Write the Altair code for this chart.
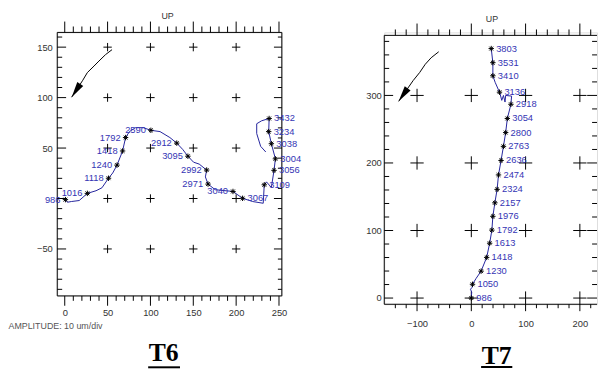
import altair as alt
import pandas as pd

# ---------------- T6 trace (x, y in um) ----------------
t6_x = [0.8, 3.1, 7.7, 16.9, 26.4, 36.5, 43.4, 51.1, 56.0, 61.0, 67.5, 71.0, 75.5, 82.5, 91.6,
        100.5, 111.2, 122.7, 130.7, 137.6, 143.7, 150.3, 156.9, 165.6, 164.1, 167.2, 175.6, 196.3,
        207.5, 219.3, 231.6, 232.8, 235.4, 241.1, 244.2, 245.8, 241.1, 238.0, 238.5, 229.7, 224.0,
        224.0, 228.6, 234.6]
t6_y = [-1.1, -3.7, -3.0, -2.0, 5.1, 7.7, 10.6, 20.1, 25.3, 33.1, 47.1, 60.4, 66.3, 70.2, 70.2,
        67.6, 66.3, 60.4, 54.9, 48.7, 41.9, 36.0, 34.1, 28.2, 21.4, 14.3, 8.7, 7.0,
        0.2, -3.0, -4.7, 13.6, 16.5, 10.9, 27.9, 39.3, 54.3, 66.3, 79.3, 77.0, 74.1,
        64.4, 51.7, 46.1]
t6_lab = ["986", "", "", "", "1016", "", "", "1118", "", "1240", "1418", "1792", "", "", "",
          "2590", "", "", "2912", "", "3095", "", "", "2992", "", "2971", "", "3040",
          "3067", "", "", "3109", "", "", "3056", "3004", "3038", "3234", "3432", "", "",
          "", "", ""]
t6_right = ["3067", "3109", "3056", "3004", "3038", "3234", "3432"]

# ---------------- T7 trace ----------------
t7_x = [0.0, 0.7, -1.5, 1.6, 2.2, 8.9, 18.0, 28.3, 33.8, 37.9, 39.7, 43.4, 47.5, 50.1, 54.8,
        59.2, 63.3, 66.4, 73.0, 74.2, 63.3, 62.1, 59.2, 56.1, 53.0, 51.9, 43.9, 39.7, 39.7, 36.7]
t7_y = [0.0, 8.7, 13.1, 16.0, 20.4, 29.2, 39.8, 60.2, 81.2, 100.6, 121.0, 141.0, 160.9, 182.3,
        203.7, 224.6, 245.0, 265.9, 286.9, 299.0, 300.0, 290.2, 300.0, 292.7, 302.3, 304.8,
        319.4, 329.1, 348.5, 369.4]
t7_lab = ["986", "", "", "", "1050", "", "1230", "1418", "1613", "1792", "1976", "2157", "2324",
          "2474", "2636", "2763", "2800", "3054", "2918", "", "", "", "", "", "", "3136", "",
          "3410", "3531", "3803"]

# direction arrows (curve + head)
a6_x = [55.2, 47.6, 39.9, 34.2, 26.4, 20.7, 8.0]
a6_y = [147.5, 142.6, 136.2, 131.3, 124.8, 116.7, 100.4]
a6_head = [13.1, 106.9]
a7_x = [-60.1, -74.0, -84.9, -95.1, -107.3, -133.9]
a7_y = [364.6, 355.8, 346.1, 334.0, 321.9, 291.2]
a7_head = [-125.6, 300.9]

# axis tick labels
t6_xticks = [0, 50, 100, 150, 200, 250]
t6_yticks = [-50, 50, 100, 150]
t7_xticks = [-100, 0, 100, 200]
t7_yticks = [0, 100, 200, 300]

FONT = "Liberation Sans Narrow, Arial Narrow, Liberation Sans, Arial, sans-serif"
SERIF = "Liberation Serif, Times New Roman, serif"
LINE_C = "#24249c"
LAB_C = "#3434b4"
AX_C = "#333333"
CROSS = "M-1,0L1,0M0,-1L0,1"
STAR = "M-1,0L1,0M0,-1L0,1M-0.7,-0.7L0.7,0.7M-0.7,0.7L0.7,-0.7"
HEAD = "M0,-1L0.45,1L-0.45,1Z"


def one():
    return pd.DataFrame({"k": [0]})


def make_panel(c):
    W, H, ft = c["W"], c["H"], c["ft"]
    xs = alt.Scale(domain=c["xdom"], nice=False, zero=False)
    ys = alt.Scale(domain=c["ydom"], nice=False, zero=False)
    xaxis = alt.Axis(values=c["xlabels"], ticks=False, domain=False, grid=False,
                     labelPadding=c["xpad"], labelFont=FONT, labelFontSize=9.5,
                     labelColor=AX_C, labelFlush=False, labelOverlap=False)
    yaxis = alt.Axis(values=c["ylabels"], ticks=False, domain=False, grid=False,
                     labelPadding=c["ypad"], labelFont=FONT, labelFontSize=9.5,
                     labelColor=AX_C, labelFlush=False, labelOverlap=False)

    def X(f):
        return alt.X(f, type="quantitative", scale=xs, axis=xaxis, title=None)

    def Y(f):
        return alt.Y(f, type="quantitative", scale=ys, axis=yaxis, title=None)

    layers = []
    # grid crosses
    g = pd.DataFrame([(gx, gy) for gx in c["gx"] for gy in c["gy"]], columns=["gx", "gy"])
    layers.append(alt.Chart(g).mark_point(shape=CROSS, filled=False, color="black",
                                          size=c["cs"], strokeWidth=1, opacity=1)
                  .encode(x=X("gx"), y=Y("gy")))

    # ticks
    def ticks(vals, side, ln):
        d = pd.DataFrame({"v": vals})
        m = alt.Chart(d).mark_rule(color="black", strokeWidth=1)
        if side == "top":
            return m.encode(x=X("v"), y=alt.value(ft), y2=alt.value(ft - ln))
        if side == "bottom":
            return m.encode(x=X("v"), y=alt.value(H), y2=alt.value(H + ln))
        if side == "left":
            return m.encode(y=Y("v"), x=alt.value(0), x2=alt.value(ln))
        return m.encode(y=Y("v"), x=alt.value(W - ln), x2=alt.value(W))

    for side, (lmaj, lmin) in c["tl"].items():
        if side in ("top", "bottom"):
            layers.append(ticks(c["xmaj"], side, lmaj))
            layers.append(ticks(c["xmin"], side, lmin))
        else:
            layers.append(ticks(c["ymaj"], side, lmaj))
            layers.append(ticks(c["ymin"], side, lmin))
    # frame
    fr = alt.Chart(one()).mark_rule(color="black", strokeWidth=1)
    layers.append(fr.encode(x=alt.value(0), x2=alt.value(W), y=alt.value(ft)))
    layers.append(fr.encode(x=alt.value(0), x2=alt.value(W), y=alt.value(H)))
    layers.append(fr.encode(x=alt.value(0), y=alt.value(ft), y2=alt.value(H)))
    if c["rframe"]:
        layers.append(fr.encode(x=alt.value(W), y=alt.value(ft), y2=alt.value(H)))
    # arrow
    ad = pd.DataFrame({"i": range(len(c["ax"])), "x": c["ax"], "y": c["ay"]})
    layers.append(alt.Chart(ad).mark_line(color="black", strokeWidth=1)
                  .encode(x=X("x"), y=Y("y"), order="i:Q"))
    hd = pd.DataFrame({"x": [c["head"][0]], "y": [c["head"][1]]})
    layers.append(alt.Chart(hd).mark_point(shape=HEAD, filled=True, color="black", size=256,
                                           angle=c["hang"], opacity=1)
                  .encode(x=X("x"), y=Y("y")))
    # trace
    td = pd.DataFrame({"i": range(len(c["px"])), "x": c["px"], "y": c["py"], "lab": c["plab"]})
    td["right"] = td["lab"].isin(c["rset"])
    layers.append(alt.Chart(td).mark_line(color=LINE_C, strokeWidth=1)
                  .encode(x=X("x"), y=Y("y"), order="i:Q"))
    lab = td[td["lab"] != ""]
    layers.append(alt.Chart(lab).mark_point(shape=STAR, filled=False, color="black", size=30,
                                            strokeWidth=1, opacity=1)
                  .encode(x=X("x"), y=Y("y")))
    layers.append(alt.Chart(lab[~lab["right"]]).mark_text(align="right", baseline="middle", dx=-5,
                                                          font=FONT, fontSize=9.5, color=LAB_C)
                  .encode(x=X("x"), y=Y("y"), text="lab:N"))
    layers.append(alt.Chart(lab[lab["right"]]).mark_text(align="left", baseline="middle", dx=5,
                                                         font=FONT, fontSize=9.5, color=LAB_C)
                  .encode(x=X("x"), y=Y("y"), text="lab:N"))
    # texts
    layers.append(alt.Chart(one()).mark_text(text="UP", align="center", baseline="bottom",
                                             font=FONT, fontSize=9, color=AX_C)
                  .encode(x=alt.value(c["upx"]), y=alt.value(ft - 12)))
    layers.append(alt.Chart(one()).mark_text(text=c["title"], align="center",
                                             baseline="alphabetic", font=SERIF, fontSize=26,
                                             fontWeight="bold", color="black")
                  .encode(x=alt.value(c["tx"]), y=alt.value(c["ty"])))
    layers.append(alt.Chart(one()).mark_rule(color="black", strokeWidth=2)
                  .encode(x=alt.value(c["ul"][0]), x2=alt.value(c["ul"][1]),
                          y=alt.value(c["ul"][2])))
    if c.get("amp"):
        layers.append(alt.Chart(one()).mark_text(text="AMPLITUDE: 10 um/div", align="left",
                                                 baseline="middle", font=FONT, fontSize=9,
                                                 color="#555555")
                      .encode(x=alt.value(-49.5), y=alt.value(H + 31)))
    return alt.layer(*layers).properties(width=W, height=H)


p6 = make_panel(dict(
    W=228, H=267.5, ft=0, xdom=[-8.74, 253.3], ydom=[-96.5, 164.6],
    xlabels=t6_xticks, ylabels=t6_yticks, xpad=12, ypad=5,
    gx=[50, 100, 150, 200], gy=[-50, 0, 50, 100, 150], cs=72,
    xmaj=[0, 50, 100, 150, 200, 250],
    xmin=[v for v in range(10, 250, 10) if v % 50],
    ymaj=[-50, 0, 50, 100, 150],
    ymin=[v for v in range(-90, 161, 10) if v % 50],
    tl={"top": (11, 6), "bottom": (10, 5), "left": (9, 5), "right": (8, 4)},
    rframe=True, ax=a6_x, ay=a6_y, head=a6_head, hang=213,
    px=t6_x, py=t6_y, plab=t6_lab, rset=t6_right,
    upx=112, title="T6", tx=108, ty=334, ul=(92.3, 124.6, 340), amp=True))

p7 = make_panel(dict(
    W=216, H=276, ft=3, xdom=[-160.4, 231.6], ydom=[-9.2, 393.3],
    xlabels=t7_xticks, ylabels=t7_yticks, xpad=15, ypad=3,
    gx=[-100, 0, 100, 200], gy=[0, 100, 200, 300], cs=182,
    xmaj=[-100, 0, 100, 200],
    xmin=[v for v in range(-140, 231, 20) if v % 100],
    ymaj=[0, 100, 200, 300],
    ymin=[v for v in range(20, 381, 20) if v % 100],
    tl={"top": (12, 6), "bottom": (7, 4), "left": (9, 5), "right": (10, 5)},
    rframe=False, ax=a7_x, ay=a7_y, head=a7_head, hang=215,
    px=t7_x, py=t7_y, plab=t7_lab, rset=list(t7_lab),
    upx=109.3, title="T7", tx=114.1, ty=336.7, ul=(98.3, 130, 339.7)))

chart = alt.HConcatChart(hconcat=[p6, p7], spacing=104, bounds="flush", padding=0)
chart = chart.configure_view(strokeWidth=0).configure(background="white")
chart.save("out.html", embed_options={"renderer": "svg", "actions": False})
